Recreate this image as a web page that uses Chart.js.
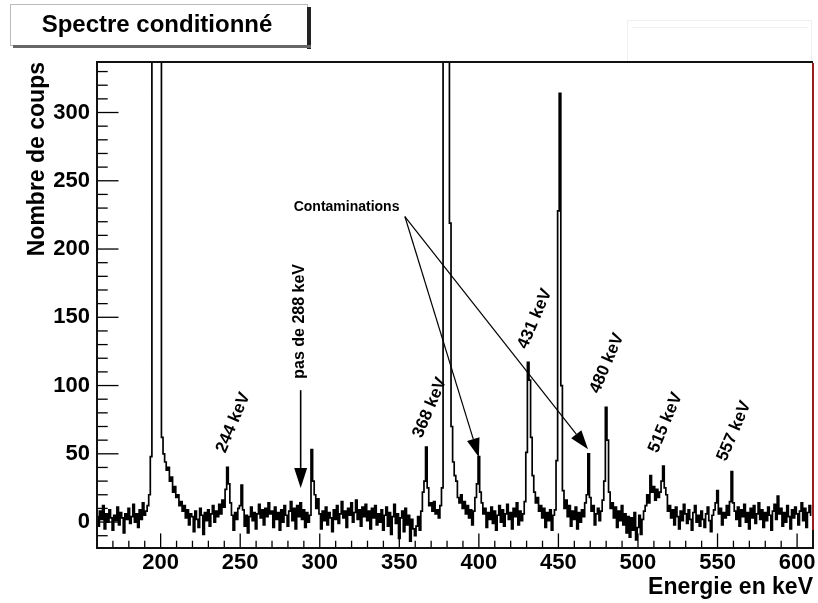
<!DOCTYPE html>
<html lang="fr">
<head>
<meta charset="utf-8">
<title>Spectre conditionné</title>
<script src="https://cdn.jsdelivr.net/npm/chart.js@4.4.1/dist/chart.umd.min.js"></script>
<style>
  html, body { margin: 0; padding: 0; background: #fff; }
  #wrap { width: 818px; height: 603px; position: relative; }
</style>
</head>
<body>
<div id="wrap"><canvas id="spectrum"></canvas></div>
<script>
// Spectrum: one bin per keV, first bin at 160 keV (1000 = off scale)
const firstBin = 160;
const counts = [
  4, -3, 8, 2, 12, -5, 6, 0, 9, 3,            // 160
  -6, 5, 1, 11, -2, 7, 3, -8, 6, 2,           // 170
  10, -1, 4, 13, 0, 6, -4, 9, 2, 14,          // 180
  5, 8, 12, 20, 48, 1000, 1000, 1000, 1000, 1000, // 190
  1000, 62, 50, 44, 38, 40, 30, 33, 22, 26,   // 200
  18, 20, 12, 15, 8, 12, 3, 9, -2, 6,         // 210
  4, -7, 8, 2, -4, 10, 5, -9, 7, 1,           // 220
  9, -3, 6, 12, 0, 8, 4, 13, 6, 16,           // 230
  11, 24, 40, 28, 14, 5, -6, 7, 2, 10,        // 240
  12, 27, 9, -3, 5, -8, 4, 11, 1, 7,          // 250
  -5, 6, 13, 3, 9, -2, 10, 4, 14, 6,          // 260
  8, -4, 11, 2, 7, -6, 9, 0, 12, 5,           // 270
  -3, 8, 15, 1, 10, -5, 12, 4, 14, 2,         // 280
  9, -4, 7, 0, 5, 53, 30, 20, 10, 17,         // 290
  6, -5, 8, 1, 11, -2, 7, 3, -7, 9,           // 300
  2, 12, -1, 6, 15, 3, 8, -4, 10, 5,          // 310
  14, 0, 7, 16, 2, 9, -3, 11, 4, 13,          // 320
  1, 8, -5, 10, 3, 12, -2, 6, 0, 9,           // 330
  -6, 5, 11, -3, 7, -9, 4, 13, -1, 6,         // 340
  -12, 3, 8, -7, 10, -2, 5, -14, 2, -5,       // 350
  -10, -3, 4, -6, 8, 22, 30, 55, 25, 12,      // 360
  14, 8, 15, 6, 9, 3, 12, 25, 1000, 1000,     // 370
  1000, 1000, 219, 70, 44, 34, 30, 18, 14, 20, // 380
  10, 15, 6, 12, 3, 9, -2, 8, 18, 28,         // 390
  48, 22, 14, 6, 10, -4, 7, 2, 11, -1,        // 400
  8, -6, 5, 12, 0, 9, -3, 6, 13, 2,           // 410
  7, -5, 10, 4, 14, -2, 8, 1, 6, 15,          // 420
  51, 117, 104, 62, 34, 22, 14, 18, 8, 12,    // 430
  3, 10, -4, 7, 1, 9, -6, 5, 9, 45,           // 440
  228, 314, 100, 23, 10, 16, 4, 12, -3, 8,    // 450
  2, 11, -5, 7, 0, 9, 4, 14, 20, 50,          // 460
  18, 8, 12, -2, 6, 10, 1, 8, 16, 30,         // 470
  84, 60, 22, 10, 14, 3, 11, -4, 8, 1,        // 480
  12, -2, 6, -8, 4, -11, 3, -6, 7, -13,       // 490
  -4, 5, -9, 2, 8, 12, 20, 14, 34, 22,        // 500
  26, 16, 24, 18, 22, 30, 41, 25, 20, 8,      // 510
  12, 3, 9, -2, 11, 4, -5, 8, 1, 13,          // 520
  6, -1, 9, 2, -6, 7, 12, 0, 5, -3,           // 530
  8, 2, -4, 6, 11, 1, -7, 5, 9, 14,           // 540
  23, 6, 10, -2, 7, 3, 12, 5, 15, 37,         // 550
  14, 8, 2, 11, -3, 9, 4, 13, 0, 7,           // 560
  -5, 10, 3, 12, -1, 6, 14, 2, 9, -4,         // 570
  7, 1, 11, 5, -6, 8, 13, 2, 19, 6,           // 580
  10, -3, 7, 0, 12, 4, -5, 9, 3, 11,          // 590
  6, -2, 8, 14, 1, 10, -4, 7, 12, 5           // 600
];

// Axis ranges and labelled ticks
const xRange = [160, 610];
const yRange = [-19, 337];
const xLabelStep = 50;
const yLabelStep = 50;

// Peak names written on the picture
const peakNames = ['244 keV', '368 keV', '431 keV', '480 keV', '515 keV', '557 keV'];
const peakNameAt = [[245.6, 72.8], [369.2, 83.8], [435.2, 148.9], [480.5, 116.3], [517.3, 72.8], [560.4, 66.6]];

const FONT = '"Liberation Sans", Arial, Helvetica, sans-serif';

const points = counts.map((c, i) => ({ x: firstBin + i, y: c }));

function drawArrow(ctx, x1, y1, x2, y2, headLen, headW, lw) {
  const a = Math.atan2(y2 - y1, x2 - x1);
  const bx = x2 - headLen * Math.cos(a), by = y2 - headLen * Math.sin(a);
  ctx.lineWidth = lw;
  ctx.beginPath(); ctx.moveTo(x1, y1); ctx.lineTo(bx, by); ctx.stroke();
  ctx.beginPath();
  ctx.moveTo(x2, y2);
  ctx.lineTo(bx + headW / 2 * Math.sin(a), by - headW / 2 * Math.cos(a));
  ctx.lineTo(bx - headW / 2 * Math.sin(a), by + headW / 2 * Math.cos(a));
  ctx.closePath(); ctx.fill();
}

// --- frame, inner ticks, title box and annotations (ROOT look) ---
const decor = {
  id: 'decor',
  beforeDraw(chart) {
    const ctx = chart.ctx;
    ctx.save();
    ctx.fillStyle = '#fff';
    ctx.fillRect(0, 0, chart.width, chart.height);
    // faint stats box top right
    ctx.strokeStyle = '#efefef'; ctx.lineWidth = 1;
    ctx.strokeRect(627.5, 20.5, 184, 42);
    ctx.beginPath(); ctx.moveTo(632, 27.5); ctx.lineTo(808, 27.5); ctx.stroke();
    ctx.restore();
  },
  afterDatasetsDraw(chart) {
    const { ctx, chartArea: a, scales: { x, y } } = chart;
    ctx.save();
    ctx.strokeStyle = '#000'; ctx.fillStyle = '#000';
    ctx.lineWidth = 1.3;
    x.ticks.forEach(t => {
      const v = Math.round(t.value);
      const px = x.getPixelForValue(v);
      if (px <= a.left + 2 || px >= a.right - 2) return;
      const len = v % 50 === 0 ? 14.6 : 7.3;
      ctx.beginPath(); ctx.moveTo(px, a.bottom); ctx.lineTo(px, a.bottom - len); ctx.stroke();
    });
    y.ticks.forEach(t => {
      const v = Math.round(t.value);
      const py = y.getPixelForValue(v);
      if (py <= a.top + 2 || py >= a.bottom - 2) return;
      const len = v % 50 === 0 ? 21.5 : 10.7;
      ctx.beginPath(); ctx.moveTo(a.left, py); ctx.lineTo(a.left + len, py); ctx.stroke();
    });

    // frame
    ctx.lineWidth = 2;
    ctx.strokeStyle = '#111';
    ctx.beginPath();
    ctx.moveTo(a.right, a.top); ctx.lineTo(a.left, a.top);
    ctx.lineTo(a.left, a.bottom); ctx.lineTo(a.right, a.bottom);
    ctx.lineTo(a.right, a.bottom - 18);
    ctx.stroke();
    ctx.strokeStyle = '#9a1d1d';
    ctx.beginPath(); ctx.moveTo(a.right, a.top + 1); ctx.lineTo(a.right, a.bottom - 18); ctx.stroke();

    // peak names
    ctx.fillStyle = '#000';
    ctx.font = 'bold 17px ' + FONT;
    ctx.textAlign = 'center'; ctx.textBaseline = 'middle';
    peakNames.forEach((txt, i) => {
      const [e, c] = peakNameAt[i];
      ctx.save();
      ctx.translate(x.getPixelForValue(e), y.getPixelForValue(c));
      ctx.rotate(-67 * Math.PI / 180);
      ctx.fillText(txt, 0, 0);
      ctx.restore();
    });

    // "pas de 288 keV" with its arrow
    ctx.save();
    ctx.font = 'bold 16px ' + FONT;
    ctx.translate(x.getPixelForValue(287.4), y.getPixelForValue(147));
    ctx.rotate(-Math.PI / 2);
    ctx.fillText('pas de 288 keV', 0, 0);
    ctx.restore();
    ctx.strokeStyle = '#000';
    drawArrow(ctx, x.getPixelForValue(288), y.getPixelForValue(96.6),
      x.getPixelForValue(288), y.getPixelForValue(25), 20, 13, 1.6);

    // contaminations
    ctx.font = 'bold 14px ' + FONT;
    ctx.textAlign = 'left';
    ctx.fillText('Contaminations', x.getPixelForValue(283.6), y.getPixelForValue(230.4));
    const sx = x.getPixelForValue(353.5), sy = y.getPixelForValue(223.8);
    drawArrow(ctx, sx, sy, x.getPixelForValue(400), y.getPixelForValue(47.5), 19, 13, 1.2);
    drawArrow(ctx, sx, sy, x.getPixelForValue(468.6), y.getPixelForValue(53.4), 19, 13, 1.2);

    // title box
    ctx.fillStyle = '#fff';
    ctx.fillRect(10, 4, 297, 41);
    ctx.strokeStyle = '#bbb'; ctx.lineWidth = 1;
    ctx.strokeRect(10.5, 4.5, 297, 41);
    ctx.fillStyle = '#222';
    ctx.fillRect(307, 7, 4, 42);
    ctx.fillStyle = '#666';
    ctx.fillRect(13, 45, 298, 3);
    ctx.fillStyle = '#000';
    ctx.font = 'bold 24px ' + FONT;
    ctx.textAlign = 'center';
    ctx.fillText('Spectre conditionné', 157, 25);
    ctx.restore();
  }
};

new Chart(document.getElementById('spectrum'), {
  type: 'line',
  data: {
    datasets: [{
      data: points,
      stepped: 'middle',
      borderColor: '#000',
      borderWidth: 1.7,
      pointRadius: 0,
      fill: false
    }]
  },
  options: {
    responsive: true,
    maintainAspectRatio: false,
    animation: false,
    devicePixelRatio: 1,
    layout: { padding: { left: 0, right: 5, top: 62, bottom: 0 } },
    plugins: { legend: { display: false }, tooltip: { enabled: false } },
    scales: {
      x: {
        type: 'linear', min: xRange[0], max: xRange[1],
        grid: { display: false, drawTicks: false },
        border: { display: false },
        afterFit: s => { s.height = 55; },
        ticks: {
          stepSize: 10, autoSkip: false, maxRotation: 0, includeBounds: false,
          padding: 2, color: '#000',
          font: { family: FONT, size: 22, weight: 'bold' },
          callback: v => (Math.round(v) % xLabelStep === 0 ? String(Math.round(v)) : '')
        },
        title: {
          display: true, text: 'Energie en keV', align: 'end', color: '#000',
          font: { family: FONT, size: 23, weight: 'bold' },
          padding: { top: 0, bottom: 2 }
        }
      },
      y: {
        type: 'linear', min: yRange[0], max: yRange[1],
        grid: { display: false, drawTicks: false },
        border: { display: false },
        afterFit: s => { s.width = 97; },
        ticks: {
          stepSize: 10, autoSkip: false, includeBounds: false,
          padding: 7, color: '#000',
          font: { family: FONT, size: 22, weight: 'bold' },
          callback: v => (Math.round(v) % yLabelStep === 0 ? String(Math.round(v)) : '')
        },
        title: {
          display: true, text: 'Nombre de coups', align: 'end', color: '#000',
          font: { family: FONT, size: 23, weight: 'bold' },
          padding: { top: 24, bottom: 0 }
        }
      }
    }
  },
  plugins: [decor]
});
</script>
</body>
</html>
